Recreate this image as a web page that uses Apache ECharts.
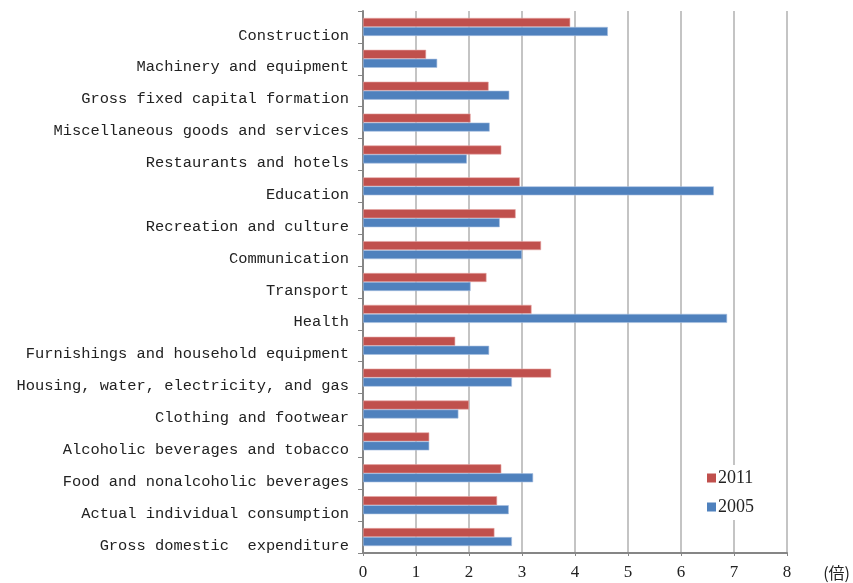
<!DOCTYPE html>
<html><head><meta charset="utf-8">
<script src="https://cdn.jsdelivr.net/npm/echarts@6/dist/echarts.min.js"></script>
<style>html,body{margin:0;padding:0;background:#fff}#c{width:853px;height:583px}</style>
</head><body><div id="c"></div>
<script>
const categories = [
  "Construction","Machinery and equipment","Gross fixed capital formation",
  "Miscellaneous goods and services","Restaurants and hotels","Education",
  "Recreation and culture","Communication","Transport","Health",
  "Furnishings and household equipment","Housing, water, electricity, and gas",
  "Clothing and footwear","Alcoholic beverages and tobacco",
  "Food and nonalcoholic beverages","Actual individual consumption",
  "Gross domestic  expenditure"
];
const values2011 = [3.91,1.19,2.37,2.03,2.61,2.96,2.88,3.36,2.33,3.18,1.74,3.55,2.00,1.25,2.61,2.53,2.48];
const values2005 = [4.62,1.40,2.76,2.39,1.96,6.62,2.58,3.00,2.03,6.87,2.38,2.81,1.80,1.25,3.21,2.75,2.81];
const xTicks = [0,1,2,3,4,5,6,7,8];
const unitLabel = "(倍)";

const chart = echarts.init(document.getElementById('c'), null, {renderer:'canvas'});
chart.setOption({
  animation:false,
  backgroundColor:'#fff',
  grid:{left:363,right:66,top:11,bottom:30,containLabel:false,outerBoundsMode:'none'},
  legend:{
    data:['2011','2005'], orient:'vertical', left:703, top:465,
    itemWidth:9, itemHeight:9, itemGap:11, icon:'rect',
    itemStyle:{borderWidth:0},
    backgroundColor:'#fff', padding:[4,4,4,4],
    textStyle:{fontFamily:'Liberation Serif', fontSize:18, color:'#222', padding:[0,0,0,-3]}
  },
  graphic:[{type:'text', right:3, bottom:2,
    style:{text:unitLabel, fontFamily:'Noto Sans CJK JP', fontSize:16, fill:'#222'}}],
  xAxis:{
    type:'value', min:xTicks[0], max:xTicks[xTicks.length-1], interval:1,
    axisLine:{show:true, lineStyle:{color:'#868686', width:2}},
    axisTick:{show:true, length:3, lineStyle:{color:'#868686'}},
    splitLine:{show:true, lineStyle:{color:'#c4c4c4', width:2}},
    axisLabel:{fontFamily:'Liberation Serif', fontSize:17, color:'#222', margin:11}
  },
  yAxis:{
    type:'category', data:categories, inverse:true,
    axisLine:{show:true, lineStyle:{color:'#868686', width:2}},
    axisTick:{show:true, length:5, lineStyle:{color:'#868686'}},
    axisLabel:{fontFamily:'Liberation Mono', fontSize:15.4, color:'#222', margin:14,
      verticalAlign:'top', lineHeight:17},
    splitLine:{show:false}
  },
  series:[
    {name:'2011', type:'bar', data:values2011, barWidth:9, barGap:'0%',
     itemStyle:{color:'#C0504D', borderColor:'#e6a5a3', borderWidth:0.6}},
    {name:'2005', type:'bar', data:values2005, barWidth:9, barGap:'0%',
     itemStyle:{color:'#4F81BD', borderColor:'#a7c0e0', borderWidth:0.6}}
  ]
});
</script></body></html>
